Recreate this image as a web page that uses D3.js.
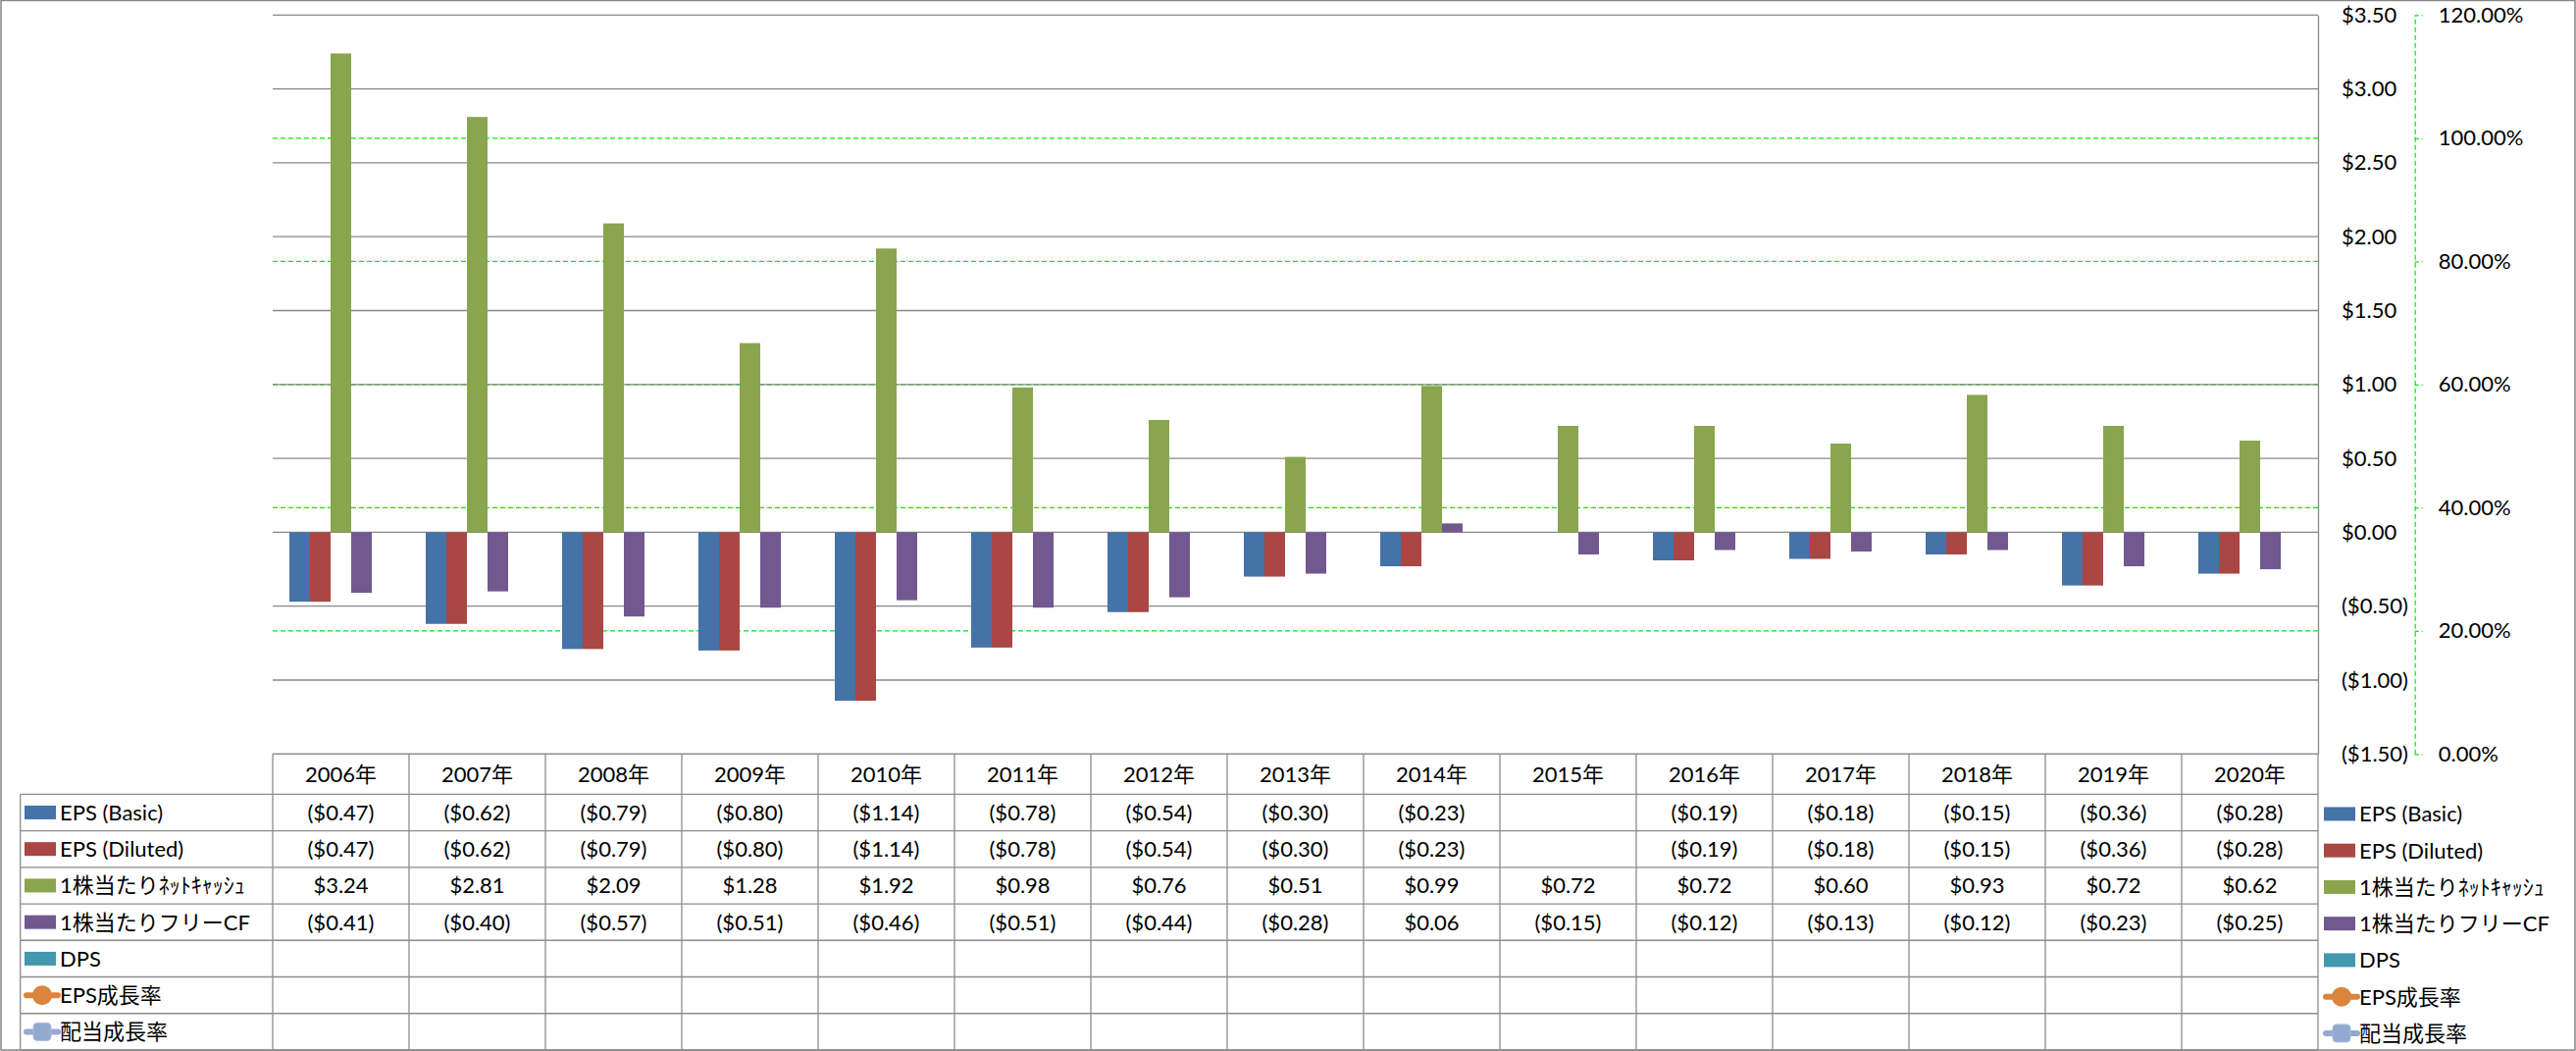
<!DOCTYPE html>
<html><head><meta charset="utf-8">
<script src="https://cdn.jsdelivr.net/npm/d3@7"></script>
<style>
body{margin:0;background:#fff}
svg{display:block}
text{font-family:Lato,'Noto Sans CJK JP',sans-serif;fill:#000}
</style>
</head><body>
<svg id="c" width="2626" height="1071"></svg>
<script>
const years = ["2006年","2007年","2008年","2009年","2010年","2011年","2012年","2013年","2014年","2015年","2016年","2017年","2018年","2019年","2020年"];
const epsBasic   = [-0.47,-0.62,-0.79,-0.80,-1.14,-0.78,-0.54,-0.30,-0.23,null,-0.19,-0.18,-0.15,-0.36,-0.28];
const epsDiluted = [-0.47,-0.62,-0.79,-0.80,-1.14,-0.78,-0.54,-0.30,-0.23,null,-0.19,-0.18,-0.15,-0.36,-0.28];
const netCashPS  = [3.24,2.81,2.09,1.28,1.92,0.98,0.76,0.51,0.99,0.72,0.72,0.60,0.93,0.72,0.62];
const freeCfPS   = [-0.41,-0.40,-0.57,-0.51,-0.46,-0.51,-0.44,-0.28,0.06,-0.15,-0.12,-0.13,-0.12,-0.23,-0.25];
const dps        = [null,null,null,null,null,null,null,null,null,null,null,null,null,null,null];
const epsGrowth  = [null,null,null,null,null,null,null,null,null,null,null,null,null,null,null];
const divGrowth  = [null,null,null,null,null,null,null,null,null,null,null,null,null,null,null];
const seriesNames = ["EPS (Basic)","EPS (Diluted)","1株当たりﾈｯﾄｷｬｯｼｭ","1株当たりフリーCF","DPS","EPS成長率","配当成長率"];
const seriesColors = ["#4572A7","#AA4643","#89A54E","#71588F","#4198AF","#DB843D","#93A9CF"];
const dollarTicks = [3.5,3.0,2.5,2.0,1.5,1.0,0.5,0.0,-0.5,-1.0,-1.5];
const pctTicks = [0,0.2,0.4,0.6,0.8,1.0,1.2];

const barSeries = [epsBasic, epsDiluted, netCashPS, freeCfPS, dps];
const allSeries = [epsBasic, epsDiluted, netCashPS, freeCfPS, dps, epsGrowth, divGrowth];

const svg = d3.select("#c");
const L = 278, R = 2363, T = 15.3, B = 768.3;
const grid = "#878787";

const y = d3.scaleLinear().domain([-1.5,3.5]).range([B,T]);
const y2 = d3.scaleLinear().domain([0,1.2]).range([B,T]);
const x = d3.scaleBand().domain(years).range([L,R]).paddingInner(0.2446).paddingOuter(0.1223);
const x1 = d3.scaleBand().domain(d3.range(barSeries.length)).range([0,x.bandwidth()]);
const step = x.step();
const cx = yv => x(yv) + x.bandwidth()/2;

const fmtD = v => v == null ? "" : (v < 0 ? "($" + Math.abs(v).toFixed(2) + ")" : "$" + v.toFixed(2));

// outer border
svg.append("rect").attr("x",1).attr("y",0.5).attr("width",2624).attr("height",1069.5)
  .attr("fill","none").attr("stroke",grid).attr("stroke-width",1.5);

// gridlines (secondary)
svg.append("g").selectAll("line").data(pctTicks.filter(d=>d>0 && d<1.2)).join("line")
  .attr("x1",L).attr("x2",R).attr("y1",d=>y2(d)).attr("y2",d=>y2(d))
  .attr("stroke","#00EE00").attr("stroke-width",1.2).attr("stroke-dasharray","5,3");
// gridlines (primary)
svg.append("g").selectAll("line").data(dollarTicks).join("line")
  .attr("x1",L).attr("x2",R).attr("y1",d=>y(d)).attr("y2",d=>y(d))
  .attr("stroke",grid).attr("stroke-width",1.3);

// bars
const gBars = svg.append("g");
barSeries.forEach((s,si)=>{
  gBars.append("g").selectAll("rect").data(years.map((yr,i)=>({yr,v:s[i]})).filter(d=>d.v!=null)).join("rect")
    .attr("x",d=>x(d.yr)+x1(si)).attr("width",x1.bandwidth())
    .attr("y",d=>Math.min(y(d.v),y(0))).attr("height",d=>Math.abs(y(d.v)-y(0)))
    .attr("fill",seriesColors[si]);
});

// primary axis at right edge of plot
const axR = svg.append("g").attr("transform",`translate(${R},0)`)
  .call(d3.axisRight(y).tickValues(dollarTicks).tickSize(0).tickPadding(24).tickFormat(fmtD));
axR.select(".domain").attr("stroke",grid).attr("stroke-width",1.3);
axR.selectAll("text").style("font-size","22px").style("font-family","Lato,'Noto Sans CJK JP',sans-serif")
  .attr("fill",d=>d<0?"#FF0000":"#000");

// secondary axis
const ax2 = svg.append("g").attr("transform",`translate(2461.7,0)`)
  .call(d3.axisRight(y2).tickValues(pctTicks).tickSize(8).tickSizeOuter(0).tickPadding(16).tickFormat(d3.format(".2%")));
ax2.select(".domain").attr("stroke","#00EE00").attr("stroke-width",1.2).attr("stroke-dasharray","5,3");
ax2.selectAll(".tick line").attr("stroke","#00EE00").attr("stroke-width",1.2).attr("stroke-dasharray","4,3");
ax2.selectAll("text").style("font-size","22px").style("font-family","Lato,'Noto Sans CJK JP',sans-serif").attr("fill","#000");

// data table
const tTop = B, hdrBot = 809.3, tBot = 1070, legL = 20.7;
const rowH = (tBot - hdrBot)/allSeries.length;
const rowY = i => hdrBot + i*rowH;
const tg = svg.append("g");
const tline = "#8C8C8C";
tg.append("line").attr("x1",L).attr("x2",R).attr("y1",tTop).attr("y2",tTop).attr("stroke",tline).attr("stroke-width",1.3);
tg.selectAll("line.h").data(d3.range(allSeries.length+1)).join("line").attr("class","h")
  .attr("x1",legL).attr("x2",R).attr("y1",i=>rowY(i)).attr("y2",i=>rowY(i))
  .attr("stroke",tline).attr("stroke-width",1.3);
const colEdges = years.map(yr=>cx(yr)-step/2).concat([cx(years[years.length-1])+step/2]);
tg.selectAll("line.v").data(colEdges).join("line").attr("class","v")
  .attr("x1",d=>d).attr("x2",d=>d).attr("y1",tTop).attr("y2",tBot)
  .attr("stroke",tline).attr("stroke-width",1.3);
tg.append("line").attr("x1",legL).attr("x2",legL).attr("y1",hdrBot).attr("y2",tBot).attr("stroke",tline).attr("stroke-width",1.3);

tg.selectAll("text.hdr").data(years).join("text").attr("class","hdr")
  .attr("x",d=>cx(d)).attr("y",(tTop+hdrBot)/2).attr("dy","0.36em")
  .attr("text-anchor","middle").style("font-size","22px").text(d=>d);
allSeries.forEach((s,si)=>{
  tg.append("g").selectAll("text").data(years.map((yr,i)=>({yr,v:s[i]}))).join("text")
    .attr("x",d=>cx(d.yr)).attr("y",rowY(si)+rowH/2).attr("dy","0.36em")
    .attr("text-anchor","middle").style("font-size","22px").text(d=>fmtD(d.v));
});

function legendKey(g, x0, yc, si){
  if (si < 5){
    g.append("rect").attr("x",x0).attr("y",yc-7).attr("width",32).attr("height",14).attr("fill",seriesColors[si]);
  } else {
    g.append("line").attr("x1",x0+2).attr("x2",x0+34).attr("y1",yc).attr("y2",yc)
      .attr("stroke",seriesColors[si]).attr("stroke-width",6).attr("stroke-linecap","round");
    if (si===5){
      g.append("circle").attr("cx",x0+18).attr("cy",yc).attr("r",10).attr("fill",seriesColors[si]);
    } else {
      g.append("rect").attr("x",x0+9).attr("y",yc-9).attr("width",18).attr("height",18).attr("rx",4)
        .attr("fill",seriesColors[si]).attr("stroke","#A9BADB").attr("stroke-width",1);
    }
  }
}
seriesNames.forEach((n,si)=>{
  const yc = rowY(si)+rowH/2;
  const g1 = tg.append("g");
  legendKey(g1, 25, yc, si);
  g1.append("text").attr("x",61).attr("y",yc).attr("dy","0.36em").style("font-size","22px").text(n);
  const g2 = svg.append("g");
  legendKey(g2, 2369, yc+1.5, si);
  g2.append("text").attr("x",2405).attr("y",yc+1.5).attr("dy","0.36em").style("font-size","22px").text(n);
});
</script>
</body></html>
